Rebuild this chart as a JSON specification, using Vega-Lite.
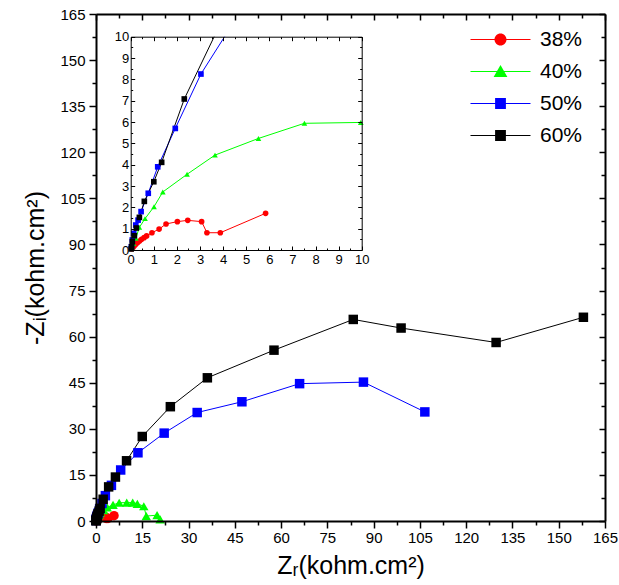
{
  "$schema": "https://vega.github.io/schema/vega-lite/v6.json",
  "width": 509,
  "height": 507,
  "autosize": {"type": "none"},
  "padding": {"left": 96, "top": 14, "right": 14, "bottom": 64},
  "background": "white",
  "config": {
    "view": {"stroke": null},
    "axis": {"zindex": 1, "grid": false, "domainColor": "black", "tickColor": "black", "labelColor": "black", "titleColor": "black", "labelFont": "Liberation Sans", "titleFont": "Liberation Sans", "labelOverlap": false, "labelFlush": false, "titleFontWeight": "normal"},
    "legend": {"labelFont": "Liberation Sans"}
  },
  "datasets": {
    "d": [
      {"series": "38%", "x": 0.05, "y": 0.06},
      {"series": "38%", "x": 0.1, "y": 0.12},
      {"series": "38%", "x": 0.16, "y": 0.2},
      {"series": "38%", "x": 0.22, "y": 0.27},
      {"series": "38%", "x": 0.3, "y": 0.35},
      {"series": "38%", "x": 0.38, "y": 0.42},
      {"series": "38%", "x": 0.47, "y": 0.5},
      {"series": "38%", "x": 0.58, "y": 0.58},
      {"series": "38%", "x": 0.69, "y": 0.66},
      {"series": "38%", "x": 0.92, "y": 0.81},
      {"series": "38%", "x": 1.23, "y": 0.98},
      {"series": "38%", "x": 1.53, "y": 1.22},
      {"series": "38%", "x": 2.02, "y": 1.33},
      {"series": "38%", "x": 2.47, "y": 1.39},
      {"series": "38%", "x": 3.07, "y": 1.33},
      {"series": "38%", "x": 3.3, "y": 0.81},
      {"series": "38%", "x": 3.88, "y": 0.81},
      {"series": "38%", "x": 5.84, "y": 1.72},
      {"series": "40%", "x": 0.05, "y": 0.12},
      {"series": "40%", "x": 0.12, "y": 0.3},
      {"series": "40%", "x": 0.22, "y": 0.55},
      {"series": "40%", "x": 0.375, "y": 1.06},
      {"series": "40%", "x": 0.62, "y": 1.47},
      {"series": "40%", "x": 1.01, "y": 2.03},
      {"series": "40%", "x": 1.39, "y": 2.72},
      {"series": "40%", "x": 2.44, "y": 3.55},
      {"series": "40%", "x": 3.65, "y": 4.45},
      {"series": "40%", "x": 5.53, "y": 5.23},
      {"series": "40%", "x": 7.52, "y": 5.94},
      {"series": "40%", "x": 9.96, "y": 5.98},
      {"series": "40%", "x": 11.9, "y": 6.0},
      {"series": "40%", "x": 13.4, "y": 5.6},
      {"series": "40%", "x": 15.5, "y": 4.8},
      {"series": "40%", "x": 16.3, "y": 1.6},
      {"series": "40%", "x": 19.8, "y": 1.9},
      {"series": "40%", "x": 20.8, "y": 0.5},
      {"series": "50%", "x": 0.03, "y": 0.15},
      {"series": "50%", "x": 0.07, "y": 0.47},
      {"series": "50%", "x": 0.13, "y": 0.78},
      {"series": "50%", "x": 0.22, "y": 1.17},
      {"series": "50%", "x": 0.32, "y": 1.4},
      {"series": "50%", "x": 0.45, "y": 1.8},
      {"series": "50%", "x": 0.76, "y": 2.66},
      {"series": "50%", "x": 1.17, "y": 3.9},
      {"series": "50%", "x": 1.93, "y": 5.7},
      {"series": "50%", "x": 3.04, "y": 8.25},
      {"series": "50%", "x": 5.0, "y": 11.6},
      {"series": "50%", "x": 8.0, "y": 16.6},
      {"series": "50%", "x": 13.6, "y": 22.2},
      {"series": "50%", "x": 22.1, "y": 28.6},
      {"series": "50%", "x": 32.8, "y": 35.3},
      {"series": "50%", "x": 47.3, "y": 38.8},
      {"series": "50%", "x": 66.0, "y": 44.7},
      {"series": "50%", "x": 86.7, "y": 45.2},
      {"series": "50%", "x": 106.6, "y": 35.5},
      {"series": "60%", "x": 0.02, "y": 0.05},
      {"series": "60%", "x": 0.04, "y": 0.16},
      {"series": "60%", "x": 0.07, "y": 0.39},
      {"series": "60%", "x": 0.16, "y": 0.67},
      {"series": "60%", "x": 0.245, "y": 1.03},
      {"series": "60%", "x": 0.375, "y": 1.53},
      {"series": "60%", "x": 0.59, "y": 2.28},
      {"series": "60%", "x": 1.0, "y": 3.2},
      {"series": "60%", "x": 1.34, "y": 4.11},
      {"series": "60%", "x": 2.32, "y": 7.08},
      {"series": "60%", "x": 4.1, "y": 11.1},
      {"series": "60%", "x": 6.3, "y": 14.3},
      {"series": "60%", "x": 9.9, "y": 19.6},
      {"series": "60%", "x": 15.0, "y": 27.5},
      {"series": "60%", "x": 24.1, "y": 37.2},
      {"series": "60%", "x": 36.1, "y": 46.6},
      {"series": "60%", "x": 57.7, "y": 55.6},
      {"series": "60%", "x": 83.4, "y": 65.6},
      {"series": "60%", "x": 98.9, "y": 62.8},
      {"series": "60%", "x": 129.7, "y": 58.1},
      {"series": "60%", "x": 158.0, "y": 66.3}
    ]
  },
  "data": {"name": "d"},
  "layer": [
    {
      "mark": {"type": "line", "strokeWidth": 1},
      "encoding": {
        "x": {"field": "x", "type": "quantitative",
          "scale": {"domain": [0, 165], "nice": false, "zero": false},
          "axis": {"orient": "bottom", "zindex": 1, "values": [0,7.5,15,22.5,30,37.5,45,52.5,60,67.5,75,82.5,90,97.5,105,112.5,120,127.5,135,142.5,150,157.5,165],
            "labelExpr": "datum.value % 15 === 0 ? datum.label : ''",
            "tickSize": {"condition": {"test": "datum.value % 15 === 0", "value": 7}, "value": 4},
            "tickWidth": 1.5, "domainWidth": 2, "labelFontSize": 15, "labelPadding": 2,
            "title": "Zᵣ(kohm.cm²)", "titleFontSize": 25, "titlePadding": 8}},
        "y": {"field": "y", "type": "quantitative",
          "scale": {"domain": [0, 165], "nice": false, "zero": false},
          "axis": {"orient": "left", "zindex": 1, "values": [0,7.5,15,22.5,30,37.5,45,52.5,60,67.5,75,82.5,90,97.5,105,112.5,120,127.5,135,142.5,150,157.5,165],
            "labelExpr": "datum.value % 15 === 0 ? datum.label : ''",
            "tickSize": {"condition": {"test": "datum.value % 15 === 0", "value": 7}, "value": 4},
            "tickWidth": 1.5, "domainWidth": 2, "labelFontSize": 15, "labelPadding": 4,
            "title": "-Zᵢ(kohm.cm²)", "titleFontSize": 25, "titlePadding": 11}},
        "color": {"field": "series", "type": "nominal",
          "scale": {"domain": ["38%", "40%", "50%", "60%"], "range": ["#ff0000", "#00ff00", "#0000ff", "#000000"]}, "legend": null}
      }
    },
    {
      "mark": {"type": "point", "filled": true, "opacity": 1, "size": 90},
      "encoding": {
        "x": {"field": "x", "type": "quantitative", "scale": {"domain": [0, 165], "nice": false, "zero": false}, "axis": null},
        "y": {"field": "y", "type": "quantitative", "scale": {"domain": [0, 165], "nice": false, "zero": false}, "axis": null},
        "color": {"field": "series", "type": "nominal",
          "scale": {"domain": ["38%", "40%", "50%", "60%"], "range": ["#ff0000", "#00ff00", "#0000ff", "#000000"]}, "legend": null},
        "shape": {"field": "series", "type": "nominal",
          "scale": {"domain": ["38%", "40%", "50%", "60%"], "range": ["circle", "triangle-up", "square", "square"]},
          "legend": null}
      }
    },
    {
      "data": {"values": [{}]},
      "mark": {"type": "rect", "color": "white"},
      "encoding": {
        "x": {"datum": 0, "type": "quantitative", "scale": {"domain": [0, 10], "range": [34.7, 265.7], "nice": false, "zero": false}, "axis": null},
        "x2": {"datum": 10},
        "y": {"datum": 0, "type": "quantitative", "scale": {"domain": [0, 10], "range": [236, 22.7], "nice": false, "zero": false}, "axis": null},
        "y2": {"datum": 10}
      }
    },
    {
      "transform": [{"filter": "datum.x <= 10.05 && datum.y <= 11.7"}],
      "mark": {"type": "line", "strokeWidth": 1},
      "encoding": {
        "x": {"field": "x", "type": "quantitative",
          "scale": {"domain": [0, 10], "range": [34.7, 265.7], "nice": false, "zero": false},
          "axis": {"orient": "bottom", "zindex": 1, "offset": -271, "values": [0,0.5,1,1.5,2,2.5,3,3.5,4,4.5,5,5.5,6,6.5,7,7.5,8,8.5,9,9.5,10],
            "labelExpr": "datum.value % 1 === 0 ? format(datum.value, 'd') : ''",
            "tickSize": {"condition": {"test": "datum.value % 1 === 0", "value": -4}, "value": -2},
            "tickWidth": 1, "domainWidth": 1, "labelFontSize": 13, "labelPadding": 7, "title": null}},
        "y": {"field": "y", "type": "quantitative",
          "scale": {"domain": [0, 10], "range": [236, 22.7], "nice": false, "zero": false},
          "axis": {"orient": "left", "zindex": 1, "offset": -34.7, "values": [0,0.5,1,1.5,2,2.5,3,3.5,4,4.5,5,5.5,6,6.5,7,7.5,8,8.5,9,9.5,10],
            "labelExpr": "datum.value % 1 === 0 ? format(datum.value, 'd') : ''",
            "tickSize": {"condition": {"test": "datum.value % 1 === 0", "value": -4}, "value": -2},
            "tickWidth": 1, "domainWidth": 1, "labelFontSize": 13, "labelPadding": 6, "title": null}},
        "color": {"field": "series", "type": "nominal",
          "scale": {"domain": ["38%", "40%", "50%", "60%"], "range": ["#ff0000", "#00ff00", "#0000ff", "#000000"]}, "legend": null}
      }
    },
    {
      "transform": [{"filter": {"field": "y", "lte": 10.05}}, {"filter": {"field": "x", "lte": 10.05}}],
      "mark": {"type": "point", "filled": true, "opacity": 1, "size": 32},
      "encoding": {
        "x": {"field": "x", "type": "quantitative", "scale": {"domain": [0, 10], "range": [34.7, 265.7], "nice": false, "zero": false}, "axis": null},
        "y": {"field": "y", "type": "quantitative", "scale": {"domain": [0, 10], "range": [236, 22.7], "nice": false, "zero": false}, "axis": null},
        "color": {"field": "series", "type": "nominal",
          "scale": {"domain": ["38%", "40%", "50%", "60%"], "range": ["#ff0000", "#00ff00", "#0000ff", "#000000"]}, "legend": null},
        "shape": {"field": "series", "type": "nominal",
          "scale": {"domain": ["38%", "40%", "50%", "60%"], "range": ["circle", "triangle-up", "square", "square"]}, "legend": null}
      }
    },
    {
      "data": {"values": [{}]},
      "mark": {"type": "rect", "color": "white"},
      "encoding": {
        "x": {"datum": 0, "type": "quantitative", "scale": {"domain": [0, 10], "range": [34.7, 265.7], "nice": false, "zero": false}, "axis": null},
        "x2": {"datum": 10},
        "y": {"datum": 10, "type": "quantitative", "scale": {"domain": [0, 10], "range": [236, 22.7], "nice": false, "zero": false}, "axis": null},
        "y2": {"datum": 11.8}
      }
    },
    {
      "transform": [{"filter": "false"}],
      "mark": {"type": "point", "filled": true, "opacity": 1},
      "encoding": {
        "color": {"field": "series", "type": "nominal",
          "scale": {"domain": ["38%", "40%", "50%", "60%"], "range": ["#ff0000", "#00ff00", "#0000ff", "#000000"]},
          "legend": {"orient": "none", "legendX": 394, "legendY": 15, "title": null, "labelFontSize": 21, "symbolSize": 144, "symbolOpacity": 1, "labelOffset": 29, "rowPadding": 10}},
        "shape": {"field": "series", "type": "nominal",
          "scale": {"domain": ["38%", "40%", "50%", "60%"], "range": [
            "M-5,-0.09H5V0.09H-5ZM1,0A1,1,0,1,1,-1,0A1,1,0,1,1,1,0Z",
            "M-5,-0.09H5V0.09H-5ZM0,-1.1L1.15,0.9L-1.15,0.9Z",
            "M-5,-0.09H5V0.09H-5ZM-0.9,-0.9H0.9V0.9H-0.9Z",
            "M-5,-0.09H5V0.09H-5ZM-0.9,-0.9H0.9V0.9H-0.9Z"]},
          "legend": {"orient": "none", "legendX": 394, "legendY": 15, "title": null, "labelFontSize": 21, "symbolSize": 144, "symbolOpacity": 1, "labelOffset": 29, "rowPadding": 10}}
      }
    },
    {
      "mark": {"type": "point", "opacity": 0},
      "encoding": {
        "x": {"field": "x", "type": "quantitative",
          "scale": {"domain": [0, 165], "nice": false, "zero": false},
          "axis": {"orient": "top", "zindex": 2, "values": [0,7.5,15,22.5,30,37.5,45,52.5,60,67.5,75,82.5,90,97.5,105,112.5,120,127.5,135,142.5,150,157.5,165],
            "labels": false, "tickSize": {"condition": {"test": "datum.value % 15 === 0", "value": -6}, "value": -4},
            "tickWidth": 1.5, "domainWidth": 2, "title": null}},
        "y": {"field": "y", "type": "quantitative",
          "scale": {"domain": [0, 165], "nice": false, "zero": false},
          "axis": {"orient": "right", "zindex": 2, "values": [0,7.5,15,22.5,30,37.5,45,52.5,60,67.5,75,82.5,90,97.5,105,112.5,120,127.5,135,142.5,150,157.5,165],
            "labels": false, "tickSize": {"condition": {"test": "datum.value % 15 === 0", "value": -6}, "value": -4},
            "tickWidth": 1.5, "domainWidth": 2, "title": null}}
      }
    },
    {
      "mark": {"type": "point", "opacity": 0},
      "encoding": {
        "x": {"field": "x", "type": "quantitative",
          "scale": {"domain": [0, 10], "range": [34.7, 265.7], "nice": false, "zero": false},
          "axis": {"orient": "top", "zindex": 2, "offset": -22.7, "values": [0,0.5,1,1.5,2,2.5,3,3.5,4,4.5,5,5.5,6,6.5,7,7.5,8,8.5,9,9.5,10],
            "labels": false, "tickSize": {"condition": {"test": "datum.value % 1 === 0", "value": -4}, "value": -2},
            "tickWidth": 1, "domainWidth": 1, "title": null}},
        "y": {"field": "y", "type": "quantitative",
          "scale": {"domain": [0, 10], "range": [236, 22.7], "nice": false, "zero": false},
          "axis": {"orient": "right", "zindex": 2, "offset": -243.3, "values": [0,0.5,1,1.5,2,2.5,3,3.5,4,4.5,5,5.5,6,6.5,7,7.5,8,8.5,9,9.5,10],
            "labels": false, "tickSize": {"condition": {"test": "datum.value % 1 === 0", "value": -4}, "value": -2},
            "tickWidth": 1, "domainWidth": 1, "title": null}}
      }
    }
  ],
  "resolve": {"scale": {"x": "independent", "y": "independent", "shape": "independent", "color": "independent"}}
}
